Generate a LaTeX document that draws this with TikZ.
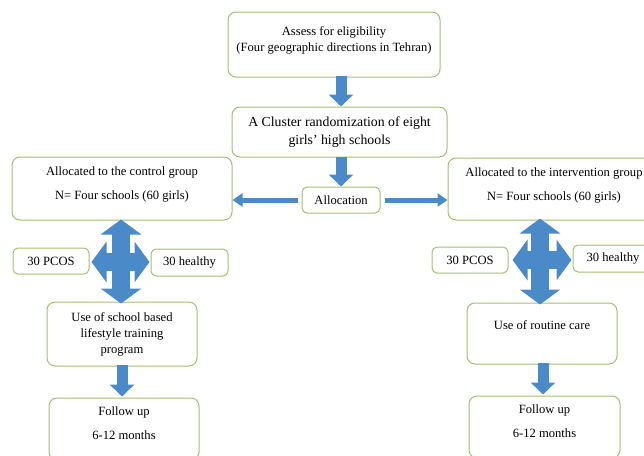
\documentclass[tikz,border=0pt]{standalone}
\usepackage{fontspec}
\setmainfont{Liberation Serif}
\usetikzlibrary{arrows.meta,calc}
\definecolor{boxgreen}{HTML}{A2C070}
\definecolor{arrowblue}{HTML}{4A8AC9}
\tikzset{
  box/.style={draw=boxgreen, line width=1pt, rounded corners=8pt, fill=white,
    align=center, inner sep=2pt, font=\fontsize{12.6}{16}\selectfont},
  smallbox/.style={box, rounded corners=5pt},
  bigarrow/.style={arrowblue, line width=11pt,
    -{Triangle[width=24pt 0, length=12pt 0 0]}},
  sidearrow/.style={arrowblue, line width=5pt,
    -{Triangle[width=13pt 0, length=10pt 0 0]}},
  crossarrow/.style={arrowblue, line width=18pt,
    {Triangle[width=40pt 0, length=15pt 0 0]}-{Triangle[width=40pt 0, length=15pt 0 0]}}
}
\begin{document}
\begin{tikzpicture}[x=1pt,y=-1pt]
\useasboundingbox (0,0) rectangle (644,455);
\node[box, minimum width=212pt, minimum height=65pt] (assess) at (334,44.5)
  {Assess for eligibility\\(Four geographic directions in Tehran)\\[-5pt]\mbox{}};
\node[box, minimum width=215pt, minimum height=50pt, font=\fontsize{13.8}{18}\selectfont] (cluster) at (339.5,132)
  {A Cluster randomization of eight\\girls' high schools};
\node[smallbox, minimum width=78pt, minimum height=26pt] (alloc) at (341,200) {Allocation};
\node[box, minimum width=220pt, minimum height=63pt] (control) at (122,188.5)
  {Allocated to the control group\\[8pt]N= Four schools (60 girls)\\[-6pt]\mbox{}};
\node[box, minimum width=212pt, minimum height=62pt] (interv) at (554,189)
  {Allocated to the intervention group\\[8pt]N= Four schools (60 girls)\\[-6pt]\mbox{}};
\node[smallbox, minimum width=76pt, minimum height=26pt] (pcosL) at (51,261) {30 PCOS};
\node[smallbox, minimum width=77pt, minimum height=27pt] (healthyL) at (189.5,262.5) {30 healthy};
\node[smallbox, minimum width=76pt, minimum height=26pt] (pcosR) at (470,260) {30 PCOS};
\node[smallbox, minimum width=80pt, minimum height=27pt] (healthyR) at (613,258.5) {30 healthy};
\node[box, minimum width=150pt, minimum height=64pt] (useL) at (122,334)
  {Use of school based\\lifestyle training\\program};
\node[box, minimum width=150pt, minimum height=61pt] (useR) at (542,333.5)
  {Use of routine care\\\mbox{}};
\node[box, minimum width=150pt, minimum height=62pt] (followL) at (124,429)
  {Follow up\\[8pt]6-12 months\\[-4pt]\mbox{}};
\node[box, minimum width=151pt, minimum height=62pt] (followR) at (544.5,427)
  {Follow up\\[8pt]6-12 months\\[-4pt]\mbox{}};
% connectors
\draw[bigarrow] ([yshift=2pt]assess.south -| alloc.north) -- (cluster.north -| alloc.north);
\draw[bigarrow] ([yshift=1pt]cluster.south -| alloc.north) -- (alloc.north);
\draw[sidearrow] ([xshift=-4pt]alloc.west) -- (control.east |- alloc.west);
\draw[sidearrow] ([xshift=4pt]alloc.east) -- (interv.west |- alloc.east);
\draw[crossarrow] ([yshift=1pt]control.south -| 121,0) -- ([yshift=-2pt]useL.north -| 121,0);
\draw[crossarrow] ([xshift=2pt]pcosL.east |- 0,262) -- ([xshift=-1pt]healthyL.west |- 0,262);
\draw[crossarrow] ([yshift=2pt]interv.south -| 540,0) -- ([yshift=-2pt]useR.north -| 540,0);
\draw[crossarrow] ([xshift=4pt]pcosR.east |- 0,260) -- ([xshift=-1pt]healthyR.west |- 0,260);
\draw[bigarrow] ([yshift=2pt]useL.south) -- ([yshift=1pt]followL.north -| useL.south);
\draw[bigarrow] ([yshift=2pt]useR.south -| 543,0) -- ([yshift=1pt]followR.north -| 543,0);
\end{tikzpicture}
\end{document}
